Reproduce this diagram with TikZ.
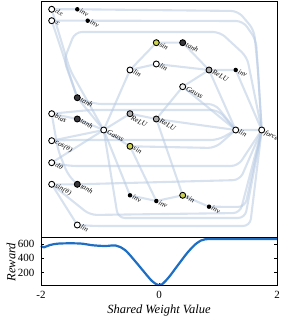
\documentclass[tikz,border=0pt]{standalone}
\usepackage{fontspec}
\setmainfont{Liberation Serif}
\usepackage{tikz}
\usetikzlibrary{arrows.meta, positioning, backgrounds}

\definecolor{wireblue}{RGB}{178,198,224}
\definecolor{sinyel}{RGB}{205,210,80}
\definecolor{tanhdk}{RGB}{55,55,60}
\definecolor{curveblue}{RGB}{30,110,195}

\begin{document}
\begin{tikzpicture}[
    x=1pt, y=-1pt,
    nd/.style={circle, draw=black, line width=0.9pt, inner sep=0pt, minimum size=6pt},
    op/.style={nd, fill=white},
    sn/.style={nd, fill=sinyel},
    th/.style={nd, fill=tanhdk},
    rl/.style={nd, fill=gray!65},
    gs/.style={nd, fill=gray!12},
    iv/.style={circle, fill=black, inner sep=0pt, minimum size=4.5pt},
    lbl/.style={rotate=-28, anchor=west, inner sep=0.6pt, font=\fontsize{7.2}{8}\selectfont\itshape},
    wire/.style={draw=wireblue, line width=2.1pt, opacity=0.5, rounded corners=7pt},
    tick/.style={font=\fontsize{11}{12}\selectfont}
  ]
    \useasboundingbox (0,0) rectangle (284,320);

    % inputs
    \node[op, label={[lbl]-20:$dx$}] (dx) at (51.7,9.3) {};
    \node[op, label={[lbl]-20:$x$}] (x) at (51.7,20.7) {};
    \node[op, label={[lbl]-20:bias}] (bias) at (51.7,113.7) {};
    \node[op, label={[lbl]-20:cos($\theta$)}] (cth) at (51.7,140.7) {};
    \node[op, label={[lbl]-20:$d\theta$}] (dth) at (51.7,162.7) {};
    \node[op, label={[lbl]-20:sin($\theta$)}] (sth) at (51.7,184.3) {};

    % hidden
    \node[iv, label={[lbl]-20:inv}] (inv1) at (77.3,9.3) {};
    \node[iv, label={[lbl]-20:inv}] (inv2) at (87.7,20.7) {};
    \node[sn, label={[lbl]-20:sin}] (sin1) at (156.3,42.7) {};
    \node[th, label={[lbl]-20:tanh}] (tanh1) at (182.7,42.7) {};
    \node[op, label={[lbl]-20:lin}] (lin1) at (156.3,64) {};
    \node[op, label={[lbl]-20:lin}] (lin2) at (130,70) {};
    \node[rl, label={[lbl]-20:ReLU}] (relu1) at (209,70) {};
    \node[iv, label={[lbl]-20:inv}] (inv3) at (235.7,70) {};
    \node[gs, label={[lbl]-20:Gauss}] (gauss1) at (182.7,86.7) {};
    \node[th, label={[lbl]-20:tanh}] (tanh2) at (77.3,97.7) {};
    \node[th, label={[lbl]-20:tanh}] (tanh3) at (77.3,119) {};
    \node[rl, label={[lbl]-75:ReLU}] (relu2) at (130,113.7) {};
    \node[rl, label={[lbl]-20:ReLU}] (relu3) at (156.3,119) {};
    \node[op, label={[lbl]-20:Gauss}] (gauss2) at (103.7,130) {};
    \node[sn, label={[lbl]-20:sin}] (sin2) at (130,146.3) {};
    \node[th, label={[lbl]-20:tanh}] (tanh4) at (77.3,184.3) {};
    \node[iv, label={[lbl]-20:inv}] (inv4) at (130,195.3) {};
    \node[iv, label={[lbl]-20:inv}] (inv5) at (156.3,201) {};
    \node[sn, label={[lbl]-20:sin}] (sin3) at (182.7,195.3) {};
    \node[iv, label={[lbl]-20:inv}] (inv6) at (209,206.7) {};
    \node[op, label={[lbl]-20:lin}] (lin4) at (77.3,225) {};
    \node[op, label={[lbl]-20:lin}] (lin3) at (235.7,130) {};

    % output
    \node[op, label={[lbl]-40:force}] (force) at (261.7,130) {};

    % connections
    \begin{scope}[on background layer]
    \draw[wire] (dx) -- (inv1) -- (238,11) -- (254,30) -- (258,70) -- (force);
    \draw[wire] (x) -- (inv2) -- (243,21) -- (256,40) -- (force);
    \draw[wire] (x) -- (tanh2);
    \draw[wire] (dx) -- (70,70) -- (gauss2);
    \draw[wire] (tanh2) -- (64,60) -- (75,32) -- (220,32) -- (247,57) -- (force);
    \draw[wire] (tanh2) -- (gauss2);
    \draw[wire] (tanh2) -- (95,104) -- (215,104) -- (lin3);
    \draw[wire] (bias) -- (tanh3) -- (gauss2);
    \draw[wire] (bias) -- (90,110) -- (218,110) -- (lin3);
    \draw[wire] (cth) -- (gauss2);
    \draw[wire] (cth) -- (70,140) -- (218,140) -- (lin3);
    \draw[wire] (gauss2) -- (relu2);
    \draw[wire] (gauss2) -- (sin2);
    \draw[wire] (gauss2) -- (lin2);
    \draw[wire] (gauss2) -- (inv4);
    \draw[wire] (gauss2) -- (118,218) -- (245,218) -- (force);
    \draw[wire] (lin2) -- (sin1) -- (tanh1) -- (relu1) -- (inv3) -- (force);
    \draw[wire] (lin2) -- (lin1) -- (relu1);
    \draw[wire] (relu1) -- (gauss1) -- (relu3);
    \draw[wire] (relu1) -- (lin3);
    \draw[wire] (gauss1) -- (lin3);
    \draw[wire] (relu2) -- (relu3) -- (lin3) -- (force);
    \draw[wire] (relu3) -- (sin3);
    \draw[wire] (sin2) -- (215,148) -- (lin3);
    \draw[wire] (dth) -- (70,166) -- (238,166) -- (force);
    \draw[wire] (dth) -- (gauss2);
    \draw[wire] (sth) -- (tanh4) -- (240,180) -- (force);
    \draw[wire] (bias) -- (58,150) -- (68,175) -- (tanh4);
    \draw[wire] (inv4) -- (inv5) -- (sin3) -- (inv6) -- (245,207) -- (force);
    \draw[wire] (sth) -- (lin4);
    \draw[wire] (lin4) -- (95,226) -- (250,226) -- (force);
    \draw[wire] (sth) -- (90,215) -- (240,213) -- (force);
    \draw[wire] (sin2) -- (inv5);
    \end{scope}

    % frame of the network panel
    \draw[line width=0.9pt] (41,1.5) rectangle (277,237.5);

    % reward plot
    \node[tick, anchor=east] (t600) at (38,244) {600};
    \node[tick, anchor=east] (t400) at (38,258.3) {400};
    \node[tick, anchor=east] (t200) at (38,272.7) {200};
    \node[tick] (tm2) at (41,295) {-2};
    \node[tick] (t0) at (159,295) {0};
    \node[tick] (tp2) at (277,295) {2};
    \node[rotate=90, font=\fontsize{12.5}{13}\selectfont\itshape] (ylab) at (11,262) {Reward};
    \node[font=\fontsize{12.5}{13}\selectfont\itshape] (xlab) at (159,310) {Shared Weight Value};
    \foreach \yy in {244,258.3,272.7} {
      \draw[line width=0.5pt] (41,\yy) -- (44,\yy);
      \draw[line width=0.5pt] (277,\yy) -- (274,\yy);
    }
    \foreach \xx in {41,159,277}
      \draw[line width=0.5pt] (\xx,285.7) -- (\xx,282.7);
    \draw[curveblue, line width=2.2pt, line join=round]
      plot[smooth, tension=0.55] coordinates {(41,246) (44,247.3) (50,245) (60,243.5) (80,243.5)
        (92,245.2) (105,246) (116,245.6) (125,250) (135,261) (145,273) (152,281) (158,285)
        (162,284.3) (169,277) (178,265) (188,252) (197,243) (205,239.3) (220,239) (277,239)};
    \draw[line width=0.9pt] (41,237.5) rectangle (277,285.7);
\end{tikzpicture}
\end{document}
